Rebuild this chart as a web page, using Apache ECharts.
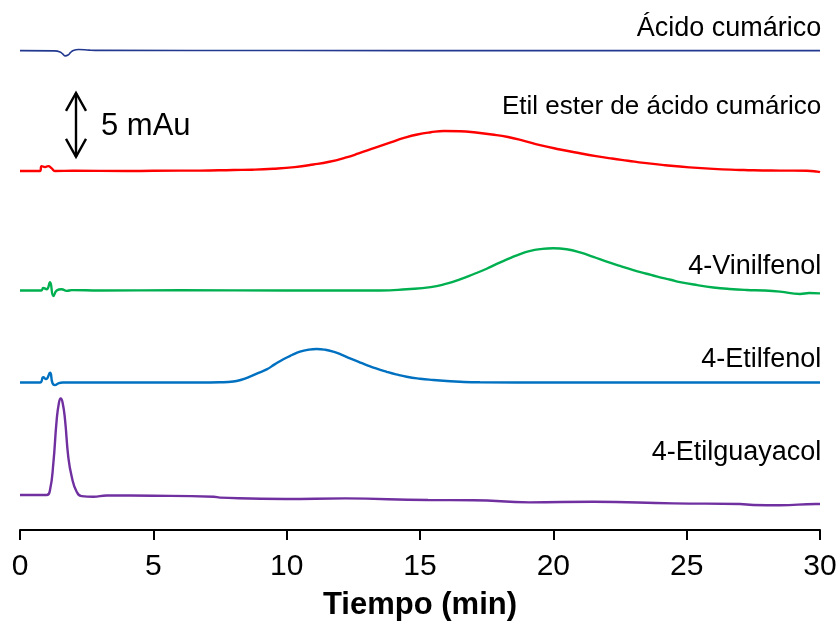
<!DOCTYPE html>
<html>
<head>
<meta charset="utf-8">
<script src="https://cdn.jsdelivr.net/npm/echarts@6/dist/echarts.min.js"></script>
<style>html,body{margin:0;padding:0;background:#fff}#c{width:840px;height:630px}</style>
</head>
<body>
<div id="c"></div>
<script>
// x ticks (min)
var xTicks = [0, 5, 10, 15, 20, 25, 30];
var seriesNames = ['Ácido cumárico', 'Etil ester de ácido cumárico', '4-Vinilfenol', '4-Etilfenol', '4-Etilguayacol'];
var seriesColors = ['#23388f', '#ff0000', '#00b050', '#0070c0', '#7030a0'];
// vertical offset of each trace (mAu)
var offsets = [37.45, 28.05, 18.71, 11.52, 2.73];

// signals relative to baseline: [time (min), mAu]
var acidoCumarico = [[0,0],[1.3,-0.02],[1.5,-0.1],[1.6,-0.26],[1.7,-0.41],[1.8,-0.34],[1.9,-0.14],[2.0,0.02],[2.2,0.09],[2.6,0.04],[3.0,0.02],[10,0.01],[20,0],[30,0]];
var etilEster = [[0,0],[0.75,0],[0.81,0.38],[0.94,0.3],[1.06,0.38],[1.19,0.2],[1.31,0],[2,0.02],[4,0],[6,0.03],[6.75,0.03],[8.0,0.08],[8.7,0.1],[9.5,0.17],[10.3,0.3],[11.0,0.5],[11.6,0.72],[12.2,1.04],[12.7,1.37],[13.3,1.8],[13.9,2.23],[14.4,2.58],[14.9,2.85],[15.4,3.02],[15.9,3.12],[16.5,3.1],[17.1,3.0],[17.7,2.85],[18.3,2.65],[18.9,2.35],[19.5,2.02],[20.2,1.7],[21.0,1.38],[21.6,1.16],[22.2,0.97],[22.8,0.8],[23.4,0.63],[24.2,0.45],[25.1,0.28],[26.0,0.16],[27.0,0.08],[27.5,0.05],[28.5,0.03],[29.5,0.02],[29.9,-0.05],[30,-0.1]];
var vinilfenol = [[0,0],[0.8,0],[0.87,0.2],[1.0,0.1],[1.125,0.64],[1.25,-0.43],[1.375,0],[1.56,0.1],[1.75,-0.03],[1.94,0.03],[3,0],[6,0.02],[10,0],[13.5,0],[14.5,0.1],[15.4,0.26],[16.0,0.54],[16.5,0.87],[17.0,1.27],[17.5,1.7],[17.9,2.1],[18.4,2.55],[18.75,2.85],[19.1,3.08],[19.5,3.23],[20.0,3.3],[20.5,3.22],[21.0,2.98],[21.5,2.63],[22.0,2.26],[22.5,1.92],[23.0,1.6],[23.5,1.31],[23.9,1.08],[24.4,0.84],[24.75,0.66],[25.4,0.42],[26.0,0.24],[26.6,0.12],[27.25,0.04],[27.9,0.0],[28.5,-0.09],[29.25,-0.27],[29.6,-0.2],[30,-0.22]];
var etilfenol = [[0,0],[0.75,0],[0.875,0.41],[0.975,0.27],[1.125,0.76],[1.22,-0.06],[1.31,-0.2],[1.44,-0.06],[1.6,0],[4,0],[6.75,0],[7.5,0.02],[8.0,0.08],[8.3,0.22],[8.6,0.45],[8.9,0.72],[9.25,1.03],[9.55,1.42],[9.875,1.82],[10.2,2.15],[10.5,2.41],[10.8,2.56],[11.125,2.62],[11.45,2.56],[11.75,2.41],[12.05,2.18],[12.375,1.89],[12.7,1.62],[13.0,1.37],[13.35,1.1],[13.75,0.84],[14.1,0.64],[14.5,0.45],[15.0,0.3],[15.5,0.2],[16.0,0.12],[16.5,0.06],[17.25,0.02],[20,0],[25,0],[30,0]];
var etilguayacol = [[0,0],[1.0,0],[1.125,0.39],[1.25,2.47],[1.375,5.86],[1.46,7.2],[1.525,7.55],[1.6,7.2],[1.69,5.86],[1.81,2.99],[1.94,1.43],[2.125,0.26],[2.31,-0.08],[2.75,-0.13],[3.25,-0.03],[5,-0.05],[7.27,-0.13],[7.5,-0.2],[9.95,-0.31],[12.2,-0.26],[15.3,-0.39],[17,-0.4],[19.1,-0.57],[21.5,-0.52],[24.5,-0.65],[27.0,-0.7],[27.5,-0.78],[28.5,-0.8],[29.85,-0.7],[30,-0.7]];
var signals = [acidoCumarico, etilEster, vinilfenol, etilfenol, etilguayacol];

// label anchor (time, mAu above trace baseline) for each trace
var labelPos = [[30.05, 1.69], [30.05, 5.0], [30.05, 1.84], [30.05, 1.76], [30.05, 3.36]];
// scale bar: 5 mAu
var scaleBar = {time: 2.1, from: 29.15, span: 5, text: '5 mAu'};

var chart = echarts.init(document.getElementById('c'), null, {renderer: 'canvas'});
var FONT = 'Liberation Sans';

var series = signals.map(function (s, i) {
  return {
    name: seriesNames[i],
    type: 'line',
    showSymbol: false,
    smooth: 0.5,
    lineStyle: {color: seriesColors[i], width: i === 0 ? 1.6 : 2.4},
    data: s.map(function (p) { return [p[0], +(p[1] + offsets[i]).toFixed(3)]; }),
    animation: false
  };
});

chart.setOption({
  animation: false,
  grid: {left: 20, right: 20, top: 18, bottom: 100},
  xAxis: {
    type: 'value', min: 0, max: 30, interval: 5,
    axisLine: {show: true, lineStyle: {color: '#000', width: 2}},
    axisTick: {show: true, length: 10, lineStyle: {color: '#000', width: 2}},
    axisLabel: {color: '#000', fontSize: 30, fontFamily: FONT, margin: 22,
      formatter: function (v) { return xTicks.indexOf(v) >= 0 ? String(v) : ''; }},
    splitLine: {show: false},
    name: 'Tiempo (min)', nameLocation: 'middle', nameGap: 60,
    nameTextStyle: {color: '#000', fontSize: 31, fontWeight: 'bold', fontFamily: FONT}
  },
  yAxis: {type: 'value', min: 0, max: 40, show: false},
  series: series
});

var g = [];
labelPos.forEach(function (lp, i) {
  var p = chart.convertToPixel({gridIndex: 0}, [lp[0], offsets[i] + lp[1]]);
  g.push({type: 'text', x: p[0], y: p[1], style: {text: seriesNames[i], fill: '#000', font: (i === 1 ? 26 : 27) + 'px "' + FONT + '"', align: 'right', verticalAlign: 'middle'}});
});
var a = chart.convertToPixel({gridIndex: 0}, [scaleBar.time, scaleBar.from + scaleBar.span]);
var b = chart.convertToPixel({gridIndex: 0}, [scaleBar.time, scaleBar.from]);
var ls = {stroke: '#000', lineWidth: 2.4, fill: null};
g.push({type: 'line', shape: {x1: a[0], y1: a[1], x2: b[0], y2: b[1]}, style: ls});
g.push({type: 'polyline', shape: {points: [[a[0] - 10, a[1] + 18], [a[0], a[1]], [a[0] + 10, a[1] + 18]]}, style: ls});
g.push({type: 'polyline', shape: {points: [[b[0] - 10, b[1] - 18], [b[0], b[1]], [b[0] + 10, b[1] - 18]]}, style: ls});
g.push({type: 'text', x: a[0] + 25, y: (a[1] + b[1]) / 2 + 2, style: {text: scaleBar.text, fill: '#000', font: '31px "' + FONT + '"', align: 'left', verticalAlign: 'middle'}});
chart.setOption({graphic: g});
</script>
</body>
</html>
